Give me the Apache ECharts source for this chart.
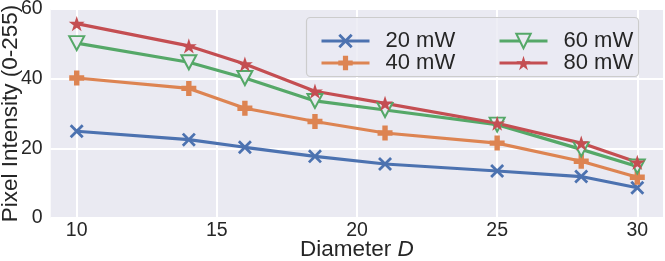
<!DOCTYPE html>
<html><head><meta charset="utf-8">
<script src="https://cdn.jsdelivr.net/npm/echarts@6/dist/echarts.min.js"></script>
<style>html,body{margin:0;padding:0;background:#fff}#c{width:665px;height:261px}</style>
</head><body><div id="c"></div>
<script>
const diameters = [10, 14, 16, 18.5, 21, 25, 28, 30];
const p20 = [24.9, 22.5, 20.3, 17.7, 15.5, 13.5, 11.9, 8.7];
const p40 = [40.2, 37.2, 31.5, 27.7, 24.4, 21.5, 16.3, 11.7];
const p60 = [50.2, 44.7, 40.2, 33.6, 31.0, 26.8, 19.7, 14.8];
const p80 = [55.8, 49.4, 44.2, 36.4, 32.9, 27.2, 21.5, 16.0];
const seriesNames = ['20 mW', '40 mW', '60 mW', '80 mW'];
const xTicks = [10, 15, 20, 25, 30];

const FONT = 'Liberation Sans, Arial, sans-serif';
const TXT = '#262626';
const COLORS = ['#4C72B0', '#DD8452', '#55A868', '#C44E52'];
const xPath = 'path://M0,14L14,0L50,36L86,0L100,14L64,50L100,86L86,100L50,64L14,100L0,86L36,50Z';
const plusPath = 'path://M32,0H68V32H100V68H68V100H32V68H0V32H32Z';
const starPath = 'path://M50,0L61.23,34.55L97.55,34.55L68.16,55.9L79.39,90.45L50,69.1L20.61,90.45L31.84,55.9L2.45,34.55L38.77,34.55Z';

function pairs(ys) { return diameters.map((d, i) => [d, ys[i]]); }

const chart = echarts.init(document.getElementById('c'));
const legendBase = {
  orient: 'vertical', top: 25, itemWidth: 48, itemHeight: 18, itemGap: 0,
  selectedMode: false, z: 6,
  lineStyle: { width: 3 },
  textStyle: { fontSize: 22, color: TXT, fontFamily: FONT, lineHeight: 20, padding: [0, 0, 0, 11] }
};
chart.setOption({
  animation: false,
  grid: { left: 50.7, right: 2, top: 9, bottom: 43, show: true, backgroundColor: '#EAEAF2', borderWidth: 0,
          containLabel: false, outerBoundsMode: 'none' },
  graphic: [{
    type: 'rect', z: 5,
    shape: { x: 306.5, y: 17.5, width: 332, height: 59, r: 4 },
    style: { fill: 'rgba(234,234,242,0.8)', stroke: '#cccccc', lineWidth: 1.2 }
  }],
  legend: [
    Object.assign({}, legendBase, { left: 315, data: [seriesNames[0], seriesNames[1]] }),
    Object.assign({}, legendBase, { left: 493, data: [seriesNames[2], seriesNames[3]] })
  ],
  xAxis: {
    type: 'value', min: 9.072, max: 30.917,
    axisLine: { show: false },
    axisTick: { show: false, customValues: xTicks },
    axisLabel: { customValues: xTicks, fontSize: 19.5, color: TXT, fontFamily: FONT, margin: 3 },
    splitLine: { show: true, lineStyle: { color: '#ffffff', width: 2 } },
    name: '{n|Diameter }{i|D}', nameLocation: 'middle', nameGap: 20, nameMoveOverlap: false,
    nameTextStyle: {
      rich: {
        n: { fontSize: 22.5, color: TXT, fontFamily: FONT },
        i: { fontSize: 22.5, color: TXT, fontFamily: FONT, fontStyle: 'italic' }
      }
    }
  },
  yAxis: {
    type: 'value', min: 0, max: 60, interval: 20,
    axisLine: { show: false }, axisTick: { show: false },
    axisLabel: { fontSize: 19.5, color: TXT, fontFamily: FONT, margin: 8 },
    splitLine: { show: true, lineStyle: { color: '#ffffff', width: 2 } },
    name: 'Pixel Intensity (0-255)', nameLocation: 'middle', nameGap: 28, nameRotate: 90, nameMoveOverlap: false,
    nameTextStyle: { fontSize: 22.5, color: TXT, fontFamily: FONT }
  },
  series: [
    { name: seriesNames[0], type: 'line', data: pairs(p20), symbol: xPath, symbolSize: 14, symbolKeepAspect: true,
      lineStyle: { color: COLORS[0], width: 3.2 }, itemStyle: { color: COLORS[0] } },
    { name: seriesNames[1], type: 'line', data: pairs(p40), symbol: plusPath, symbolSize: 15, symbolKeepAspect: true,
      lineStyle: { color: COLORS[1], width: 3.2 }, itemStyle: { color: COLORS[1] } },
    { name: seriesNames[2], type: 'line', data: pairs(p60), symbol: 'triangle', symbolSize: [15, 14], symbolRotate: 180,
      lineStyle: { color: COLORS[2], width: 3.2 }, itemStyle: { color: '#EAEAF2', borderColor: COLORS[2], borderWidth: 2 } },
    { name: seriesNames[3], type: 'line', data: pairs(p80), symbol: starPath, symbolSize: 16, symbolKeepAspect: true,
      lineStyle: { color: COLORS[3], width: 3.2 }, itemStyle: { color: COLORS[3] } }
  ]
});
</script>
</body></html>
